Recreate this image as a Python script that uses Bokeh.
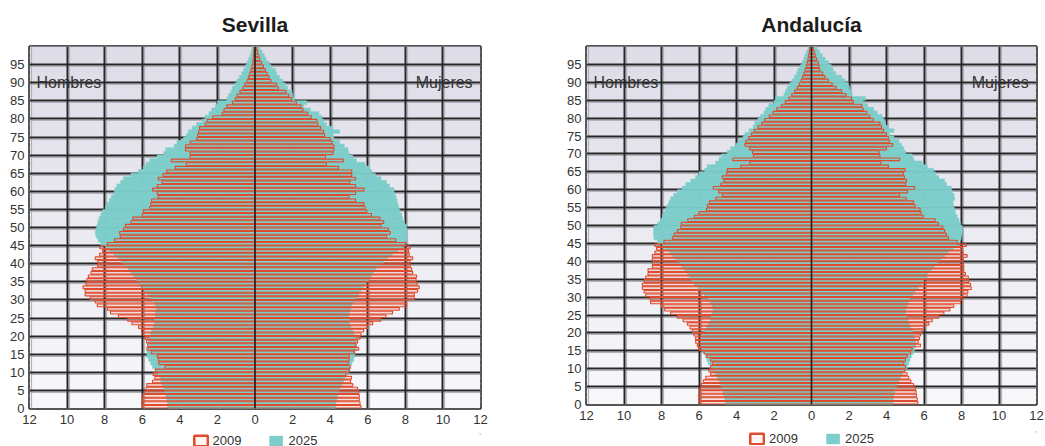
import numpy as np
from bokeh.plotting import figure
from bokeh.layouts import row, column
from bokeh.models import (ColumnDataSource, FixedTicker, Grid, Span, Label, Legend,
                          LegendItem, Range1d, CustomJSTickFormatter)
from bokeh.embed import file_html
from bokeh.resources import INLINE

# ---------------- data (per mille of population, single years of age 0..99) -------------
ages = list(range(100))
x_ticks = list(range(-12, 13, 2))
y_ticks = list(range(0, 100, 5))
series_labels = ["2009", "2025"]
panel_titles = ["Sevilla", "Andalucía"]
side_labels = ["Hombres", "Mujeres"]

sev_m09 = [
    6.0, 6.02, 6.0, 5.97, 5.87, 5.8, 5.76, 5.45, 5.33, 5.43,
    5.3, 4.78, 5.12, 5.15, 5.2, 5.52, 5.75, 5.71, 5.77, 5.86,
    5.95, 6.04, 6.2, 6.55, 6.78, 7.27, 7.69, 7.86, 8.39, 8.5,
    8.77, 9.04, 9.04, 9.15, 8.99, 8.95, 8.87, 8.73, 8.66, 8.38,
    8.37, 8.5, 8.27, 8.11, 8.26, 7.86, 7.48, 7.17, 7.2, 7.0,
    6.9, 6.6, 6.5, 6.0, 5.95, 5.6, 5.55, 5.5, 5.15, 5.2,
    5.45, 5.2, 4.95, 5.15, 4.9, 4.7, 4.25, 3.65, 4.45, 3.45,
    3.45, 3.7, 3.7, 3.45, 3.1, 3.05, 3.0, 2.95, 2.65, 2.55,
    2.25, 1.75, 1.65, 1.5, 1.2, 1.05, 0.95, 0.8, 0.65, 0.55,
    0.42, 0.35, 0.28, 0.22, 0.16, 0.12, 0.1, 0.08, 0.06, 0.05]

sev_m25 = [
    4.65, 4.65, 4.7, 4.75, 4.8, 4.85, 4.95, 5.0, 5.05, 5.15,
    5.3, 5.45, 5.55, 5.65, 5.75, 5.75, 5.7, 5.65, 5.65, 5.6,
    5.55, 5.5, 5.4, 5.35, 5.35, 5.3, 5.3, 5.25, 5.3, 5.4,
    5.55, 5.7, 5.85, 6.0, 6.15, 6.3, 6.45, 6.6, 6.75, 6.9,
    7.1, 7.3, 7.5, 7.75, 7.95, 8.2, 8.35, 8.45, 8.5, 8.45,
    8.4, 8.35, 8.3, 8.2, 8.1, 7.95, 7.85, 7.75, 7.65, 7.5,
    7.45, 7.35, 7.15, 7.0, 6.6, 6.2, 5.95, 5.8, 5.6, 5.2,
    4.85, 4.75, 4.3, 4.15, 3.8, 3.65, 3.55, 3.35, 3.1, 2.8,
    2.65, 2.45, 2.3, 2.1, 2.0, 1.5, 1.4, 1.28, 1.2, 1.05,
    0.95, 0.83, 0.7, 0.6, 0.5, 0.42, 0.33, 0.25, 0.2, 0.16]

sev_f09 = [
    5.64, 5.59, 5.55, 5.55, 5.52, 5.46, 5.2, 5.09, 5.13, 4.84,
    5.02, 5.06, 4.97, 5.02, 5.02, 5.28, 5.52, 5.37, 5.46, 5.59,
    5.64, 5.78, 6.0, 6.26, 6.7, 6.97, 7.32, 7.68, 8.07, 8.07,
    8.48, 8.48, 8.65, 8.74, 8.62, 8.57, 8.6, 8.39, 8.34, 8.26,
    8.25, 8.39, 8.21, 8.18, 8.26, 8.0, 7.5, 7.0, 7.2, 7.1,
    6.7, 6.85, 6.65, 6.2, 5.95, 5.85, 5.8, 5.35, 5.0, 5.35,
    5.8, 5.35, 5.05, 5.35, 5.15, 5.15, 4.45, 3.8, 4.7, 3.75,
    4.15, 4.2, 4.2, 4.1, 4.0, 3.7, 3.65, 3.5, 3.35, 3.3,
    3.0, 2.8, 2.55, 2.45, 2.2, 1.95, 1.8, 1.65, 1.25, 1.15,
    0.85, 0.75, 0.65, 0.55, 0.45, 0.35, 0.25, 0.2, 0.14, 0.1]

sev_f25 = [
    4.28, 4.31, 4.35, 4.4, 4.45, 4.52, 4.63, 4.7, 4.79, 4.9,
    5.02, 5.1, 5.16, 5.25, 5.28, 5.34, 5.41, 5.41, 5.37, 5.34,
    5.28, 5.2, 5.1, 5.02, 5.02, 4.98, 5.02, 5.1, 5.14, 5.23,
    5.37, 5.52, 5.64, 5.77, 5.9, 6.05, 6.17, 6.3, 6.44, 6.6,
    6.85, 7.05, 7.3, 7.59, 7.85, 8.0, 8.05, 8.09, 8.09, 8.09,
    8.05, 7.95, 7.85, 7.8, 7.7, 7.65, 7.6, 7.55, 7.5, 7.4,
    7.4, 7.15, 7.0, 6.7, 6.4, 6.2, 6.1, 5.85, 5.4, 5.2,
    5.0, 4.95, 4.75, 4.5, 4.2, 4.15, 4.5, 4.1, 3.8, 3.65,
    3.55, 3.4, 2.95, 2.6, 2.75, 2.1, 2.0, 1.97, 1.74, 1.6,
    1.47, 1.3, 1.15, 1.08, 0.85, 0.73, 0.59, 0.5, 0.37, 0.23]

and_m09 = [
    6.0, 6.0, 6.0, 5.96, 5.95, 5.88, 5.77, 5.64, 5.38, 5.47,
    5.38, 5.29, 5.38, 5.59, 5.73, 6.0, 6.09, 6.18, 6.18, 6.27,
    6.36, 6.48, 6.62, 6.85, 7.16, 7.51, 7.83, 8.0, 8.58, 8.61,
    8.84, 8.93, 9.02, 9.02, 8.93, 8.84, 8.72, 8.72, 8.49, 8.49,
    8.49, 8.49, 8.35, 8.26, 8.35, 7.87, 7.42, 7.33, 7.16, 6.98,
    6.95, 6.6, 6.25, 6.0, 5.6, 5.55, 5.45, 5.1, 4.75, 4.95,
    5.24, 4.84, 4.67, 4.76, 4.53, 4.49, 3.78, 3.29, 4.2, 3.1,
    3.15, 3.3, 3.55, 3.5, 3.35, 3.2, 3.05, 2.85, 2.65, 2.5,
    2.25, 2.05, 1.85, 1.6, 1.4, 1.2, 1.05, 0.9, 0.76, 0.65,
    0.55, 0.48, 0.4, 0.33, 0.28, 0.23, 0.19, 0.15, 0.12, 0.1]

and_m25 = [
    4.6, 4.63, 4.67, 4.72, 4.78, 4.84, 4.92, 5.02, 5.12, 5.25,
    5.38, 5.5, 5.58, 5.65, 5.72, 5.8, 5.86, 5.88, 5.84, 5.78,
    5.68, 5.6, 5.5, 5.4, 5.34, 5.3, 5.25, 5.3, 5.4, 5.5,
    5.7, 5.85, 6.05, 6.25, 6.4, 6.5, 6.62, 6.75, 6.92, 7.05,
    7.22, 7.4, 7.58, 7.82, 7.95, 8.22, 8.4, 8.42, 8.42, 8.4,
    8.2, 8.05, 7.96, 7.87, 7.78, 7.69, 7.6, 7.51, 7.35, 7.15,
    6.89, 6.7, 6.44, 6.18, 6.0, 5.69, 5.56, 5.11, 4.93, 4.8,
    4.49, 4.31, 4.04, 3.87, 3.65, 3.55, 3.33, 3.11, 3.02, 2.86,
    2.71, 2.53, 2.44, 2.27, 2.0, 1.91, 1.47, 1.38, 1.29, 1.14,
    1.02, 0.9, 0.79, 0.72, 0.58, 0.49, 0.4, 0.35, 0.26, 0.18]

and_f09 = [
    5.67, 5.64, 5.6, 5.58, 5.55, 5.45, 5.3, 5.19, 5.1, 4.98,
    5.01, 4.92, 5.01, 5.1, 5.28, 5.37, 5.81, 5.69, 5.76, 5.81,
    5.9, 5.99, 6.26, 6.44, 6.79, 7.06, 7.38, 7.59, 7.95, 8.04,
    8.3, 8.34, 8.52, 8.48, 8.39, 8.36, 8.21, 8.12, 8.12, 8.09,
    8.09, 8.3, 8.07, 8.04, 8.25, 7.77, 7.32, 7.2, 7.1, 7.0,
    6.76, 6.59, 5.96, 5.85, 5.79, 5.52, 5.45, 5.05, 4.7, 5.13,
    5.5, 5.02, 5.07, 4.95, 4.9, 5.0, 4.1, 3.7, 4.7, 3.65,
    3.6, 4.0, 4.33, 4.15, 4.1, 4.0, 3.85, 3.74, 3.65, 3.3,
    3.12, 2.95, 2.76, 2.67, 2.23, 2.14, 1.84, 1.61, 1.31, 1.1,
    0.9, 0.72, 0.6, 0.45, 0.4, 0.36, 0.27, 0.2, 0.15, 0.1]

and_f25 = [
    4.34, 4.36, 4.39, 4.44, 4.52, 4.57, 4.66, 4.75, 4.84, 4.98,
    5.1, 5.17, 5.25, 5.32, 5.42, 5.5, 5.55, 5.55, 5.51, 5.46,
    5.37, 5.28, 5.22, 5.14, 5.07, 5.03, 5.03, 5.1, 5.17, 5.24,
    5.4, 5.52, 5.7, 5.85, 5.98, 6.1, 6.2, 6.4, 6.55, 6.7,
    6.9, 7.1, 7.3, 7.55, 7.75, 7.9, 7.98, 8.02, 8.04, 8.04,
    7.95, 7.86, 7.77, 7.68, 7.63, 7.56, 7.55, 7.63, 7.59, 7.5,
    7.45, 7.2, 7.1, 6.79, 6.61, 6.5, 6.17, 5.9, 5.46, 5.37,
    5.01, 4.92, 4.8, 4.66, 4.4, 4.15, 4.39, 4.05, 3.95, 3.86,
    3.75, 3.5, 3.3, 3.0, 2.75, 2.88, 2.17, 2.1, 2.03, 1.96,
    1.78, 1.6, 1.28, 1.15, 1.05, 0.9, 0.72, 0.57, 0.43, 0.3]

# ---------------- styling -------------
TEAL = "#7dcecb"
RED = "#df4b2d"
GRID = "#262626"
SHADOW = "#b2b2ba"
TXT = "#333333"
FONT = "Liberation Sans"


def gradient_colors(n):
    top = np.array([221, 220, 231])
    bot = np.array([248, 248, 251])
    cols = []
    for i in range(n):
        t = (i + 0.5) / n
        c = bot + (top - bot) * t
        cols.append("#%02x%02x%02x" % tuple(int(round(v)) for v in c))
    return cols


def make_panel(title, m09, m25, f09, f25, fw, fh, bl, br, bt, bb):
    p = figure(frame_width=fw, frame_height=fh,
               x_range=Range1d(-12, 12), y_range=Range1d(0, 100),
               output_backend="svg", toolbar_location=None,
               min_border_left=bl, min_border_right=br,
               min_border_top=bt, min_border_bottom=bb,
               background_fill_color="white", border_fill_color="white")

    p.title.text = title
    p.title.align = "center"
    p.title.text_font = FONT
    p.title.text_font_size = "21px"
    p.title.text_font_style = "bold"
    p.title.text_color = "#1c1c1c"
    p.title.standoff = 21

    # gradient background of the frame
    n = 60
    edges = np.linspace(0, 100, n + 1)
    p.quad(left=-12, right=12, bottom=edges[:-1], top=edges[1:] + 0.4,
           fill_color=gradient_colors(n), line_color=None, level="image")

    # grids: dark main lines + a light "shadow" line beside each
    xt = FixedTicker(ticks=x_ticks)
    yt = FixedTicker(ticks=y_ticks)
    gx = p.xgrid[0]
    gy = p.ygrid[0]
    gx.ticker = xt
    gy.ticker = yt
    for g in (gx, gy):
        g.grid_line_color = GRID
        g.grid_line_width = 2.0
        g.grid_line_alpha = 1.0
    px_x = 24.0 / fw
    px_y = 100.0 / fh
    sx = Grid(dimension=0, ticker=FixedTicker(ticks=[v + 2.0 * px_x for v in x_ticks]),
              grid_line_color=SHADOW, grid_line_width=1.2)
    sy = Grid(dimension=1, ticker=FixedTicker(ticks=[v - 2.0 * px_y for v in y_ticks]),
              grid_line_color=SHADOW, grid_line_width=1.2)
    p.center = [sx, sy] + [r for r in p.center]

    src = ColumnDataSource(dict(
        y=[a + 0.5 for a in ages],
        m09=[-v for v in m09], f09=f09,
        m25=[-v for v in m25], f25=f25,
        zero=[0] * len(ages)))

    # light pink tint inside 2009 boxes
    p.hbar(y="y", height=0.75, left="m09", right="zero", source=src,
           fill_color=RED, fill_alpha=0.13, line_color=None)
    p.hbar(y="y", height=0.75, left="zero", right="f09", source=src,
           fill_color=RED, fill_alpha=0.13, line_color=None)
    # 2025 bars
    p.hbar(y="y", height=1.0, left="m25", right="zero", source=src,
           fill_color=TEAL, line_color=TEAL, line_width=0.6)
    p.hbar(y="y", height=1.0, left="zero", right="f25", source=src,
           fill_color=TEAL, line_color=TEAL, line_width=0.6)
    # 2009 outlines
    p.hbar(y="y", height=0.75, left="m09", right="zero", source=src,
           fill_color=None, line_color=RED, line_width=1.1)
    p.hbar(y="y", height=0.75, left="zero", right="f09", source=src,
           fill_color=None, line_color=RED, line_width=1.1)

    p.add_layout(Span(location=0, dimension="height", line_color="#1f1f1f",
                      line_width=1.6, level="overlay"))

    p.add_layout(Label(x=-11.63, y=90, text=side_labels[0], text_font=FONT,
                       text_font_size="16px", text_color=TXT,
                       text_align="left", text_baseline="alphabetic"))
    p.add_layout(Label(x=11.58, y=90, text=side_labels[1], text_font=FONT,
                       text_font_size="16px", text_color=TXT,
                       text_align="right", text_baseline="alphabetic"))

    # axes
    p.xaxis.ticker = xt
    p.xaxis.formatter = CustomJSTickFormatter(code="return Math.abs(tick).toString();")
    p.yaxis.ticker = yt
    for ax in (p.xaxis[0], p.yaxis[0]):
        ax.axis_line_color = None
        ax.major_tick_line_color = None
        ax.minor_tick_line_color = None
        ax.major_tick_out = 0
        ax.major_tick_in = 0
        ax.major_label_text_font = FONT
        ax.major_label_text_font_size = "13px"
        ax.major_label_text_color = TXT
    p.xaxis.major_label_standoff = 6
    p.yaxis.major_label_standoff = 5

    p.outline_line_color = "#1f1f1f"
    p.outline_line_width = 2.5
    return p


def make_legend_strip(fw, bl, br, h):
    q = figure(frame_width=fw, frame_height=h, x_range=Range1d(0, 1), y_range=Range1d(0, 1),
               output_backend="svg", toolbar_location=None,
               min_border_left=bl, min_border_right=br, min_border_top=0, min_border_bottom=0,
               x_axis_type=None, y_axis_type=None, outline_line_color=None,
               background_fill_color="white", border_fill_color="white")
    q.xgrid.visible = False
    q.ygrid.visible = False
    # swatch carriers, placed far outside the visible range
    d09 = q.hbar(y=[1000], height=[1], left=[1000], right=[1001], fill_color="#fff4f1",
                 line_color=RED, line_width=2.5)
    d25 = q.hbar(y=[1000], height=[1], left=[1000], right=[1001], fill_color=TEAL,
                 line_color=None)
    leg = Legend(items=[LegendItem(label=series_labels[0], renderers=[d09]),
                        LegendItem(label=series_labels[1], renderers=[d25])],
                 orientation="horizontal", location="top_center",
                 background_fill_alpha=0, border_line_color=None,
                 padding=0, margin=0, spacing=26, label_standoff=4,
                 glyph_width=17, glyph_height=13, label_height=15,
                 label_text_font=FONT, label_text_font_size="13px",
                 label_text_color=TXT)
    q.add_layout(leg)
    return q


p1 = make_panel(panel_titles[0], sev_m09, sev_m25, sev_f09, sev_f25,
                fw=451, fh=362, bl=29, br=84, bt=44, bb=25)
l1 = make_legend_strip(451, 29, 84, 15)
p2 = make_panel(panel_titles[1], and_m09, and_m25, and_f09, and_f25,
                fw=450, fh=358, bl=21, br=10, bt=46, bb=27)
l2 = make_legend_strip(450, 21, 10, 15)

layout = row(column(p1, l1), column(p2, l2))
open("out.html", "w").write(file_html(layout, INLINE))
